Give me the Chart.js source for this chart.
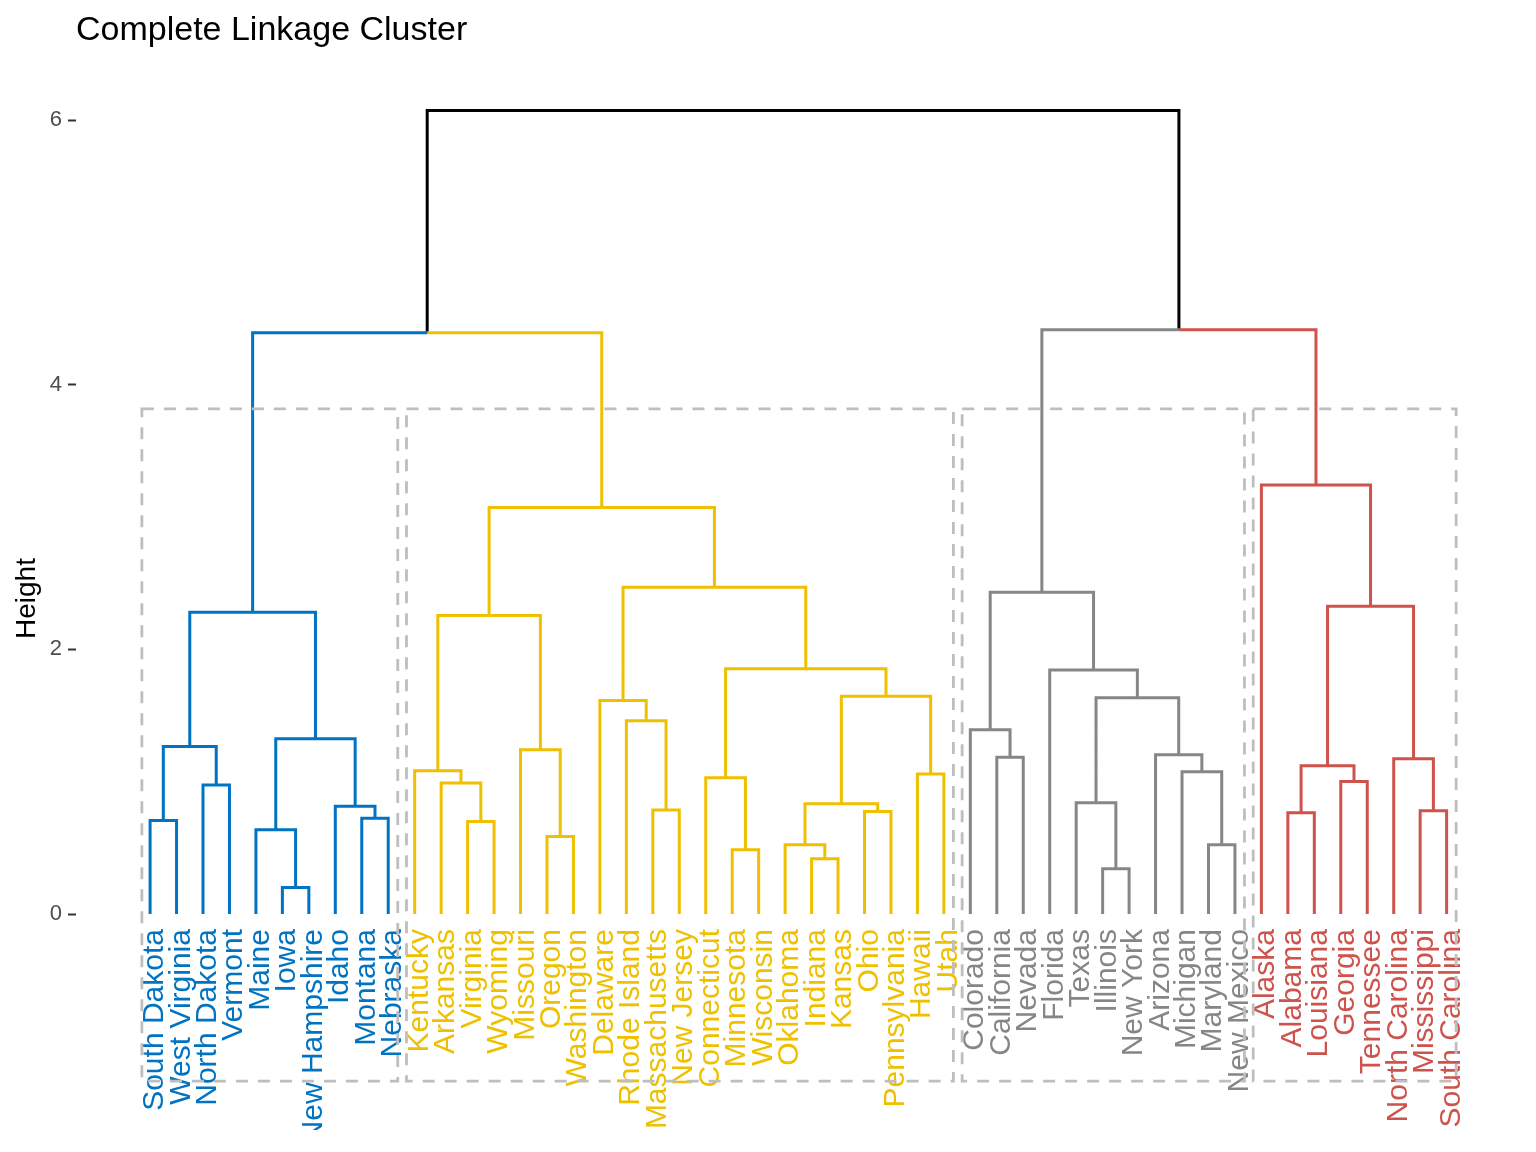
<!DOCTYPE html>
<html>
<head>
<meta charset="utf-8">
<title>Complete Linkage Cluster</title>
<script src="https://cdn.jsdelivr.net/npm/chart.js@4/dist/chart.umd.min.js"></script>
<style>
  html, body { margin: 0; padding: 0; background: #fff; }
  #wrap { width: 1536px; height: 1152px; position: relative; }
</style>
</head>
<body>
<div id="wrap"><canvas id="dend"></canvas></div>
<script>
// leaves, left to right
const states = [
  'South Dakota', 'West Virginia', 'North Dakota', 'Vermont', 'Maine', 'Iowa',
  'New Hampshire', 'Idaho', 'Montana', 'Nebraska',
  'Kentucky', 'Arkansas', 'Virginia', 'Wyoming', 'Missouri', 'Oregon', 'Washington',
  'Delaware', 'Rhode Island', 'Massachusetts', 'New Jersey', 'Connecticut', 'Minnesota',
  'Wisconsin', 'Oklahoma', 'Indiana', 'Kansas', 'Ohio', 'Pennsylvania', 'Hawaii', 'Utah',
  'Colorado', 'California', 'Nevada', 'Florida', 'Texas', 'Illinois', 'New York',
  'Arizona', 'Michigan', 'Maryland', 'New Mexico',
  'Alaska', 'Alabama', 'Louisiana', 'Georgia', 'Tennessee', 'North Carolina',
  'Mississippi', 'South Carolina'
];

// merge table like hclust: -n = leaf n (1-based, in the order above), +m = merge row m
const merges = [
  [-6, -7], [-5, 1], [-1, -2], [-9, -10], [-8, 4], [-3, -4], [3, 6], [2, 5], [7, 8],
  [-13, -14], [-12, 10], [-11, 11], [-16, -17], [-15, 13], [12, 14],
  [-20, -21], [-19, 16], [-18, 17], [-23, -24], [-22, 19], [-26, -27], [-25, 21],
  [-28, -29], [22, 23], [-30, -31], [24, 25], [20, 26], [18, 27], [15, 28],
  [-33, -34], [-32, 30], [-37, -38], [-36, 32], [-41, -42], [-40, 34], [-39, 35],
  [33, 36], [-35, 37], [31, 38],
  [-44, -45], [-46, -47], [40, 41], [-49, -50], [-48, 43], [42, 44], [-43, 45],
  [9, 29], [39, 46], [47, 48]
];
const heights = [
  0.200, 0.636, 0.707, 0.724, 0.815, 0.976, 1.266, 1.324, 2.281,
  0.699, 0.991, 1.082, 0.586, 1.241, 2.256,
  0.787, 1.460, 1.613, 0.485, 1.029, 0.417, 0.523,
  0.775, 0.833, 1.059, 1.646, 1.853, 2.470, 3.072,
  1.185, 1.392, 0.342, 0.840, 0.523, 1.075, 1.203,
  1.634, 1.845, 2.432,
  0.765, 1.001, 1.120, 0.780, 1.173, 2.326, 3.243,
  4.392, 4.415, 6.072
];

// k = 4 groups, sizes left to right
const groupSizes = [10, 21, 11, 8];
const groupColors = ['#0073C2', '#EFC000', '#868686', '#CD534C'];
const yTicks = [0, 2, 4, 6];

// group of each leaf
const leafGroup = [];
groupSizes.forEach((n, g) => { for (let i = 0; i < n; i++) leafGroup.push(g); });

// x, height and group of every merge
const nodes = [];
function info(ref) {
  if (ref < 0) return { x: -ref, h: 0, g: leafGroup[-ref - 1] };
  return nodes[ref - 1];
}
merges.forEach((m, i) => {
  const a = info(m[0]), b = info(m[1]);
  nodes.push({ x: (a.x + b.x) / 2, h: heights[i], g: a.g === b.g ? a.g : -1 });
});

// one elbow per child, coloured by the child's group (black above the cut)
const paths = groupColors.map(() => []);
paths.push([]); // black
merges.forEach((m, i) => {
  const p = nodes[i];
  m.forEach(ref => {
    const c = info(ref);
    const list = c.g < 0 ? paths[paths.length - 1] : paths[c.g];
    list.push({ x: p.x, y: p.h }, { x: c.x, y: p.h }, { x: c.x, y: c.h }, { x: NaN, y: NaN });
  });
});

const datasets = paths.map((pts, i) => ({
  data: pts,
  showLine: true,
  borderColor: i < groupColors.length ? groupColors[i] : '#000000',
  borderWidth: 3,
  borderJoinStyle: 'miter',
  borderCapStyle: 'butt',
  pointRadius: 0,
  spanGaps: false,
  tension: 0
}));

// cut height between the k-th and (k-1)-th highest merges
const sortedH = heights.slice().sort((a, b) => b - a);
const k = groupSizes.length;
const cutHeight = (sortedH[k - 1] + sortedH[k - 2]) / 2;

const leafLabels = {
  id: 'leafLabels',
  afterDatasetsDraw(chart) {
    const { ctx, chartArea, scales: { x, y } } = chart;
    ctx.save();
    ctx.beginPath();
    ctx.rect(chartArea.left, chartArea.top, chartArea.right - chartArea.left, chartArea.bottom - chartArea.top);
    ctx.clip();

    // state names, turned to read upward
    ctx.font = '30px "Liberation Sans", Arial, sans-serif';
    ctx.textAlign = 'right';
    ctx.textBaseline = 'alphabetic';
    const yStart = y.getPixelForValue(0) + 15;
    states.forEach((s, i) => {
      ctx.save();
      ctx.translate(x.getPixelForValue(i + 1), yStart);
      ctx.rotate(-Math.PI / 2);
      ctx.fillStyle = groupColors[leafGroup[i]];
      ctx.fillText(s, 0, 13);
      ctx.restore();
    });

    // dashed boxes round the groups
    ctx.setLineDash([12, 10]);
    ctx.lineWidth = 2.8;
    ctx.strokeStyle = '#BEBEBE';
    let first = 1;
    groupSizes.forEach(n => {
      const last = first + n - 1;
      const x1 = x.getPixelForValue(first - 0.31);
      const x2 = x.getPixelForValue(last + 0.36);
      const y1 = y.getPixelForValue(cutHeight);
      const y2 = y.getPixelForValue(-1.263);
      ctx.strokeRect(x1, y1, x2 - x1, y2 - y1);
      first = last + 1;
    });
    ctx.restore();
  }
};

new Chart(document.getElementById('dend'), {
  type: 'scatter',
  data: { datasets: datasets },
  options: {
    responsive: true,
    maintainAspectRatio: false,
    animation: false,
    events: [],
    layout: { padding: { left: 0, right: 10, top: 0, bottom: 22 } },
    plugins: {
      legend: { display: false },
      tooltip: { enabled: false },
      title: {
        display: true,
        text: 'Complete Linkage Cluster',
        align: 'start',
        fullSize: false,
        color: '#000000',
        font: { family: '"Liberation Sans", Arial, sans-serif', size: 34, weight: 'normal', lineHeight: 1.2 },
        padding: { top: 10, bottom: 16.3 }
      }
    },
    scales: {
      x: { type: 'linear', display: false, min: -1.8, max: 53 },
      y: {
        type: 'linear',
        min: -1.632,
        max: 6.4,
        afterFit: axis => { axis.width = 76; },
        afterBuildTicks: axis => { axis.ticks = yTicks.map(v => ({ value: v })); },
        border: { display: false },
        grid: { drawOnChartArea: false, drawTicks: true, tickLength: 8, tickWidth: 2, color: '#333333' },
        ticks: { color: '#4D4D4D', padding: 6, font: { family: '"Liberation Sans", Arial, sans-serif', size: 22 } },
        title: {
          display: true,
          text: 'Height',
          color: '#000000',
          font: { family: '"Liberation Sans", Arial, sans-serif', size: 28 },
          padding: { top: 10, bottom: 0 }
        }
      }
    }
  },
  plugins: [leafLabels]
});
</script>
</body>
</html>
